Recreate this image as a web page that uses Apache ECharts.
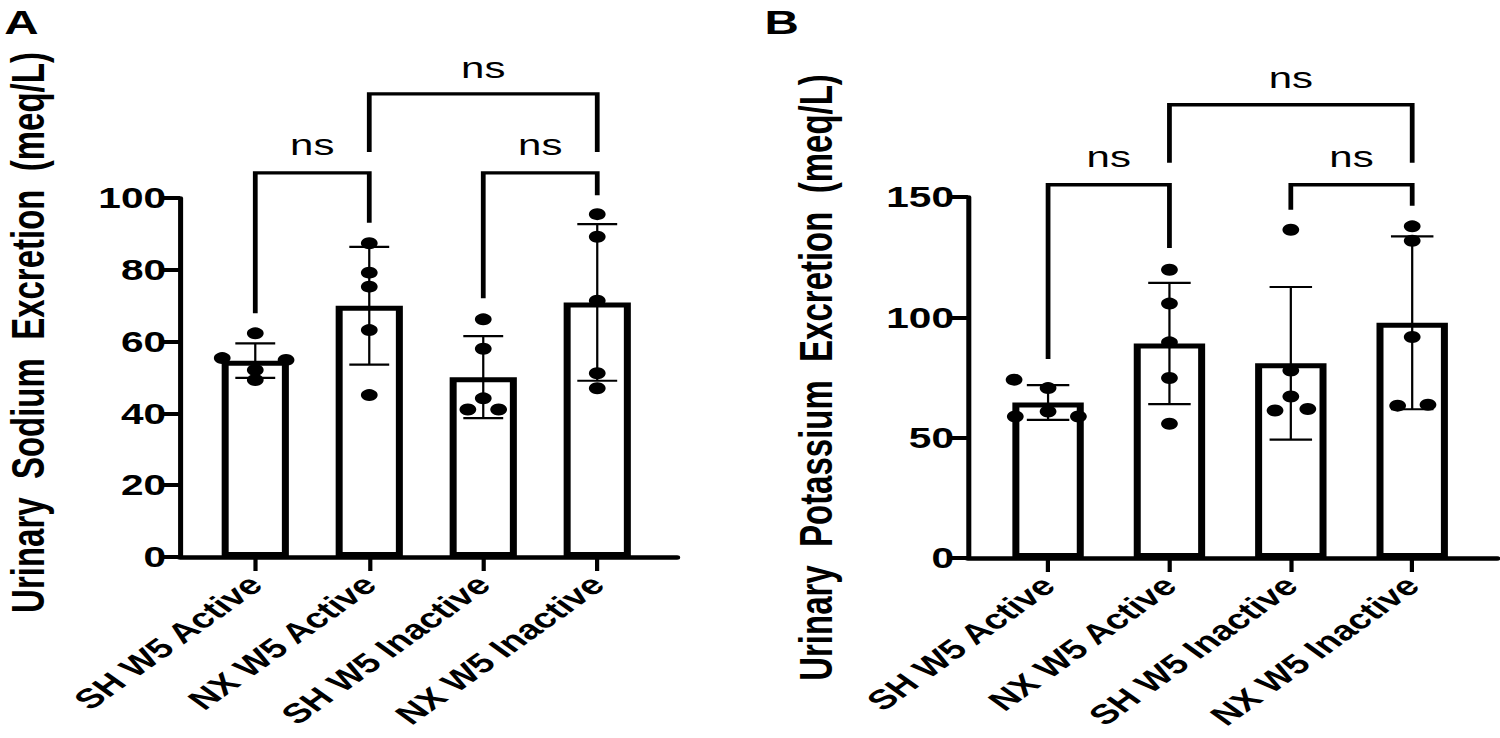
<!DOCTYPE html>
<html><head><meta charset="utf-8">
<script src="https://cdn.jsdelivr.net/npm/echarts@6/dist/echarts.min.js"></script>
<style>
html,body{margin:0;padding:0;background:#fff;overflow:hidden;}
#wrap{width:1500px;height:738px;overflow:hidden;position:relative;background:#fff;}
#chart{width:1072px;height:738px;transform:scaleX(1.4);transform-origin:0 0;}
</style></head><body>
<div id="wrap"><div id="chart"></div></div>
<script>
// ---------------- data ----------------
const categories = ['SH W5 Active', 'NX W5 Active', 'SH W5 Inactive', 'NX W5 Inactive'];

const sodiumMean = [54.7, 70.0, 50.1, 70.9];
const sodiumSD   = [4.8, 16.4, 11.4, 21.8];
const sodiumPoints = [
  [62.3, 55.4, 54.9, 52.1, 49.3],
  [87.4, 79.2, 75.3, 63.2, 45.1],
  [66.2, 58.0, 44.2, 41.1, 41.1],
  [95.5, 89.2, 71.4, 51.2, 47.0]
];
const sodiumTicks = [0, 20, 40, 60, 80, 100];

const potassiumMean = [64.6, 89.1, 80.9, 97.7];
const potassiumSD   = [7.2, 25.2, 31.7, 35.9];
const potassiumPoints = [
  [74.1, 70.6, 60.9, 58.8, 58.8],
  [119.8, 105.7, 89.6, 74.8, 55.8],
  [136.4, 77.9, 67.1, 61.3, 61.9],
  [137.8, 131.8, 91.8, 63.3, 63.7]
];
const potassiumTicks = [0, 50, 100, 150];

// comparisons: [groupA, groupB, label]
const comparisons = [[0, 1, 'ns'], [2, 3, 'ns'], [1, 3, 'ns']];

// ---------------- layout / style ----------------
// horizontal spread of overlapping dots (category units)
const sodiumJitter = [[0, -0.29, 0.27, 0, 0], [0, 0, 0, 0, 0], [0, 0, 0, -0.135, 0.135], [0, 0, 0, 0, 0]];
const potassiumJitter = [[-0.28, 0, 0, -0.27, 0.25], [0, 0, 0, 0, 0], [0, 0, 0, -0.13, 0.14], [0, 0, 0, -0.12, 0.13]];
// bracket geometry in data units: [barY, leftLegEnd, rightLegEnd, labelY]
const sodiumBracketGeom = [[107.0, 67.9, 93.1, 114.8], [107.0, 72.1, 100.8, 114.8], [129.0, 112.8, 112.8, 136.2]];
const potassiumBracketGeom = [[155.1, 82.7, 128.8, 166.8], [155.1, 144.7, 146.4, 166.8], [188.3, 164.2, 164.2, 199.6]];

const FONT = '"Liberation Sans", Arial, Helvetica, sans-serif';

function errorItem(params, api) {
  const x = api.value(0), m = api.value(1), sd = api.value(2);
  const top = api.coord([x, m + sd]), bot = api.coord([x, m - sd]);
  const hw = api.size([1, 0])[0] * 0.175;
  const st = { stroke: '#000', lineWidth: 2.2 };
  return { type: 'group', children: [
    { type: 'line', shape: { x1: top[0], y1: top[1], x2: bot[0], y2: bot[1] }, style: { stroke: '#000', lineWidth: 1.6 } },
    { type: 'line', shape: { x1: top[0] - hw, y1: top[1], x2: top[0] + hw, y2: top[1] }, style: st },
    { type: 'line', shape: { x1: bot[0] - hw, y1: bot[1], x2: bot[0] + hw, y2: bot[1] }, style: st }
  ]};
}

function bracketItem(params, api) {
  const a = api.value(0), b = api.value(1), yh = api.value(2), la = api.value(3), lb = api.value(4), ty = api.value(5);
  const p1 = api.coord([a, la]), p2 = api.coord([a, yh]), p3 = api.coord([b, yh]), p4 = api.coord([b, lb]);
  const t = api.coord([(a + b) / 2, ty]);
  return { type: 'group', children: [
    { type: 'polyline', shape: { points: [p1, p2, p3, p4] }, style: { stroke: '#000', lineWidth: 3.4, fill: null, lineJoin: 'miter', lineCap: 'butt' } },
    { type: 'text', x: t[0], y: t[1], style: { text: comparisons[params.dataIndex][2], font: '30px ' + FONT, fill: '#000', textAlign: 'center', textVerticalAlign: 'middle', align: 'center', verticalAlign: 'middle' } }
  ]};
}

function panel(idx, means, sds, points, jitter, ticks, geom, barW, name, namePad) {
  const xAxis = {
    gridIndex: idx, type: 'value', min: -0.66, max: 3.70,
    splitLine: { show: false },
    axisLine: { show: true, onZero: false, lineStyle: { color: '#000', width: 4.5 } },
    axisTick: { show: true, customValues: [0, 1, 2, 3], length: 14, lineStyle: { color: '#000', width: 3 } },
    axisLabel: {
      customValues: [0, 1, 2, 3], rotate: 45, margin: 23,
      formatter: v => categories[Math.round(v)],
      color: '#000', fontFamily: FONT, fontWeight: 'bold', fontSize: 27.5
    }
  };
  const step = ticks[1] - ticks[0];
  const yAxis = {
    gridIndex: idx, type: 'value', min: ticks[0], max: ticks[ticks.length - 1], interval: step,
    splitLine: { show: false },
    axisLine: { show: true, onZero: false, lineStyle: { color: '#000', width: 3.6 } },
    axisTick: { show: true, length: 15, lineStyle: { color: '#000', width: 4 } },
    axisLabel: { color: '#000', fontFamily: FONT, fontWeight: 'bold', fontSize: 29, margin: 10 },
    name: name, nameLocation: 'middle', nameGap: 92, nameRotate: 90,
    nameTextStyle: { color: '#000', fontFamily: FONT, fontWeight: 'bold', fontSize: 33, padding: namePad }
  };
  const barData = means.map((m, i) => [i, m]);
  const errData = means.map((m, i) => [i, m, sds[i]]);
  const dotData = [];
  points.forEach((g, i) => g.forEach((v, j) => dotData.push([i + jitter[i][j], v])));
  const brData = comparisons.map((c, k) => [c[0], c[1]].concat(geom[k]));
  const series = [
    { type: 'bar', xAxisIndex: idx, yAxisIndex: idx, data: barData, barWidth: barW,
      itemStyle: { color: '#fff', borderColor: '#000', borderWidth: 5 }, z: 2, silent: true },
    { type: 'custom', xAxisIndex: idx, yAxisIndex: idx, data: errData, renderItem: errorItem, z: 3, silent: true,
      encode: { x: 0, y: 1 } },
    { type: 'scatter', xAxisIndex: idx, yAxisIndex: idx, data: dotData, symbol: 'circle', symbolSize: 12,
      itemStyle: { color: '#000', opacity: 1 }, z: 4, silent: true },
    { type: 'custom', xAxisIndex: idx, yAxisIndex: idx, data: brData, renderItem: bracketItem, z: 5, clip: false, silent: true,
      encode: { x: [0, 1], y: [2, 3, 4, 5] } }
  ];
  return { xAxis, yAxis, series };
}

const pA = panel(0, sodiumMean, sodiumSD, sodiumPoints, sodiumJitter, sodiumTicks, sodiumBracketGeom, 48,
  'Urinary  Sodium  Excretion  (meq/L)', [0, 0, 0, 90]);
const pB = panel(1, potassiumMean, potassiumSD, potassiumPoints, potassiumJitter, potassiumTicks, potassiumBracketGeom, 51,
  'Urinary  Potassium  Excretion  (meq/L)', [0, 0, 0, 0]);

const chart = echarts.init(document.getElementById('chart'), null, { renderer: 'svg' });
chart.setOption({
  animation: false,
  backgroundColor: '#fff',
  grid: [
    { left: 128.6, top: 198, width: 355, height: 359, containLabel: false, outerBoundsMode: 'none' },
    { left: 691.4, top: 197, width: 378, height: 361, containLabel: false, outerBoundsMode: 'none' }
  ],
  xAxis: [pA.xAxis, pB.xAxis],
  yAxis: [pA.yAxis, pB.yAxis],
  series: pA.series.concat(pB.series),
  graphic: [
    { type: 'text', left: 3, top: 5, style: { text: 'A', font: 'bold 34px ' + FONT, fill: '#000' } },
    { type: 'text', left: 546, top: 5, style: { text: 'B', font: 'bold 34px ' + FONT, fill: '#000' } }
  ]
});
</script>
</body></html>
